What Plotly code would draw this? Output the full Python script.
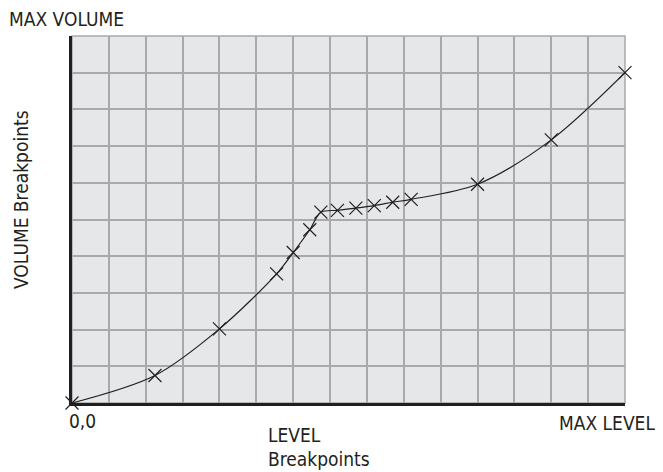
import plotly.graph_objects as go

# breakpoints, in grid units (15 columns x 10 rows)
level = [0, 2.25, 4.0, 5.55, 6.0, 6.45, 6.75, 7.2, 7.7, 8.2, 8.7, 9.2, 11.0, 13.0, 15.0]
volume = [0, 0.75, 2.02, 3.52, 4.1, 4.72, 5.2, 5.25, 5.31, 5.38, 5.47, 5.55, 5.96, 7.17, 9.0]

txt_font = dict(family="DejaVu Sans Condensed, Liberation Sans Narrow, sans-serif",
                size=19, color="#231f20")

fig = go.Figure()
fig.add_trace(go.Scatter(
    x=level, y=volume, mode="lines+markers",
    line=dict(color="#231f20", width=1.2, shape="spline", smoothing=0.9),
    marker=dict(symbol="x-thin", size=13, line=dict(color="#231f20", width=1.2)),
    cliponaxis=False, showlegend=False,
))

fig.update_xaxes(range=[0, 15], dtick=1, showgrid=True, gridcolor="#a7a9ac", gridwidth=1.5,
                 showticklabels=False, zeroline=False, showline=True, linecolor="#231f20",
                 linewidth=2.5, mirror=False, ticks="")
fig.update_yaxes(range=[0, 10], dtick=1, showgrid=True, gridcolor="#a7a9ac", gridwidth=1.5,
                 showticklabels=False, zeroline=False, showline=True, linecolor="#231f20",
                 linewidth=2.5, mirror=False, ticks="")

# right and top border of the grid
fig.add_shape(type="rect", xref="paper", yref="paper", x0=0, x1=1, y0=0, y1=1,
              line=dict(color="#a7a9ac", width=1.5), layer="below")

# page is drawn with an 8px body margin, so positions below are page pixels
off = 8
left, right, top, bottom = 72, 625, 36, 403


def px(x):
    return (x - left) / (right - left)


def py(y):
    return (bottom - y) / (bottom - top)


annos = [
    dict(text="MAX VOLUME", x=7, y=19, anchor="left"),
    dict(text="0,0", x=67, y=421, anchor="left"),
    dict(text="MAX LEVEL", x=657, y=423, anchor="right"),
    dict(text="LEVEL", x=266, y=435, anchor="left"),
    dict(text="Breakpoints", x=266, y=459, anchor="left"),
]
for a in annos:
    fig.add_annotation(text=a["text"], xref="paper", yref="paper",
                       x=px(a["x"]), y=py(a["y"]),
                       xanchor=a["anchor"], yanchor="middle", showarrow=False, font=txt_font)
fig.add_annotation(text="VOLUME Breakpoints", xref="paper", yref="paper",
                   x=px(21), y=py(200),
                   xanchor="center", yanchor="middle", textangle=-90,
                   showarrow=False, font=txt_font)

fig.update_layout(
    width=663 - off, height=472 - off,
    margin=dict(l=left - off, r=663 - right, t=top - off, b=472 - bottom),
    plot_bgcolor="#e6e7e8", paper_bgcolor="white",
)

fig.write_html("out.html")
